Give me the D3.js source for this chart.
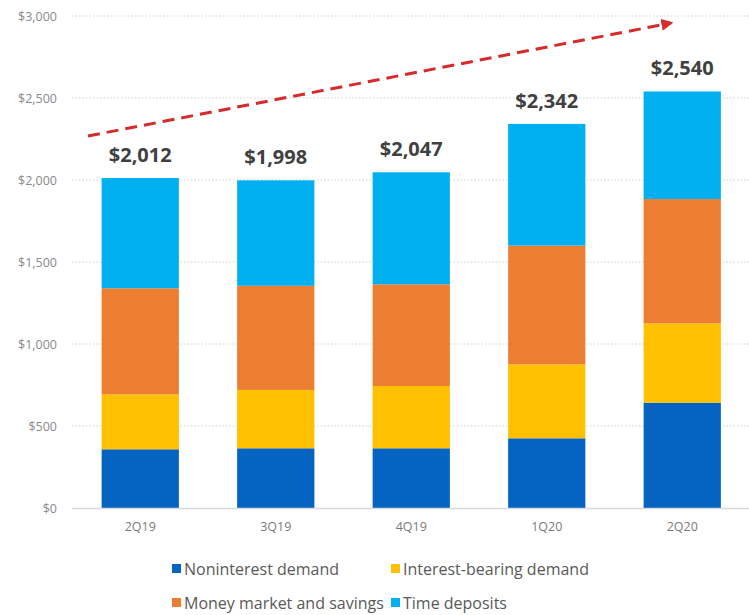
<!DOCTYPE html>
<html>
<head>
<meta charset="utf-8">
<script src="https://cdn.jsdelivr.net/npm/d3@7"></script>
<style>
  html, body { margin: 0; padding: 0; background: #fff; }
  svg { display: block; }
</style>
</head>
<body>
<svg id="chart" width="749" height="615"></svg>
<script>
// Quarterly deposit mix ($ millions)
const quarters = ["2Q19", "3Q19", "4Q19", "1Q20", "2Q20"];
const seriesNames = ["Noninterest demand", "Interest-bearing demand", "Money market and savings", "Time deposits"];
const nonintDemand = [358, 364, 364, 425, 642];
const intBearingDemand = [335, 356, 380, 451, 484];
const moneyMarket = [647, 635, 620, 724, 758];
const timeDeposits = [672, 643, 683, 742, 656];
const yTicks = [0, 500, 1000, 1500, 2000, 2500, 3000];
const seriesColors = ["#0563C1", "#FFC000", "#ED7D31", "#00B0F0"];

const FONT = "'Open Sans', Lato, sans-serif";
const keys = ["ni", "ib", "mm", "td"];
const rows = quarters.map((q, i) => ({
  q, ni: nonintDemand[i], ib: intBearingDemand[i], mm: moneyMarket[i], td: timeDeposits[i]
}));

const svg = d3.select("#chart");
const x = d3.scaleBand().domain(quarters).range([72.5, 750]).paddingInner(0.43).paddingOuter(0.215);
const y = d3.scaleLinear().domain([0, 3000]).range([508, 16]);
const color = d3.scaleOrdinal().domain(keys).range(seriesColors);

// Dotted gridlines
svg.append("g").selectAll("line").data(yTicks.filter(d => d > 0)).join("line")
  .attr("x1", 72).attr("x2", 749)
  .attr("y1", d => y(d)).attr("y2", d => y(d))
  .attr("stroke", "#d0d0d0").attr("stroke-width", 1).attr("stroke-dasharray", "1.5,2");

// Y axis labels
const yAxis = d3.axisLeft(y).tickValues(yTicks).tickSize(0).tickPadding(0)
  .tickFormat(d => "$" + d3.format(",")(d));
svg.append("g").attr("transform", "translate(57,0)").call(yAxis)
  .call(g => g.select(".domain").remove())
  .selectAll("text")
  .attr("fill", "#8a8a8a").attr("font-family", FONT).attr("font-size", 12.5);

// Stacked bars
const stacked = d3.stack().keys(keys)(rows);
svg.append("g").selectAll("g").data(stacked).join("g")
  .attr("fill", d => color(d.key))
  .selectAll("rect").data(d => d).join("rect")
  .attr("x", d => x(d.data.q))
  .attr("width", x.bandwidth())
  .attr("y", d => y(d[1]))
  .attr("height", d => y(d[0]) - y(d[1]));

// Baseline
svg.append("line").attr("x1", 72).attr("x2", 749).attr("y1", y(0) + 0.5).attr("y2", y(0) + 0.5)
  .attr("stroke", "#d9d9d9").attr("stroke-width", 1.5);

// X axis labels
const xAxis = d3.axisBottom(x).tickSize(0).tickPadding(0);
svg.append("g").attr("transform", `translate(0,${y(0) + 14})`).call(xAxis)
  .call(g => g.select(".domain").remove())
  .selectAll("text")
  .attr("fill", "#7a7a7a").attr("font-family", FONT).attr("font-size", 12.5);

// Total labels
svg.append("g").selectAll("text").data(rows).join("text")
  .attr("x", d => x(d.q) + x.bandwidth() / 2)
  .attr("y", d => y(d.ni + d.ib + d.mm + d.td) - 16)
  .attr("text-anchor", "middle")
  .attr("fill", "#404040").attr("font-family", FONT)
  .attr("font-weight", "bold").attr("font-size", 20)
  .text(d => "$" + d3.format(",")(d.ni + d.ib + d.mm + d.td));

// Growth trend arrow
svg.append("defs").append("marker")
  .attr("id", "arrowHead").attr("viewBox", "0 0 10 10").attr("refX", 8).attr("refY", 5)
  .attr("markerWidth", 4).attr("markerHeight", 4).attr("orient", "auto")
  .append("path").attr("d", "M0,0 L10,5 L0,10 Z").attr("fill", "#D52B2B");
svg.append("line")
  .attr("x1", 88).attr("y1", 136).attr("x2", 671).attr("y2", 23)
  .attr("stroke", "#D52B2B").attr("stroke-width", 3).attr("stroke-dasharray", "12,7")
  .attr("marker-end", "url(#arrowHead)");

// Legend
const legendItems = [
  { name: seriesNames[0], key: "ni", x: 172, y: 569 },
  { name: seriesNames[1], key: "ib", x: 391, y: 569 },
  { name: seriesNames[2], key: "mm", x: 172, y: 603 },
  { name: seriesNames[3], key: "td", x: 391, y: 603 }
];
const lg = svg.append("g").selectAll("g").data(legendItems).join("g")
  .attr("transform", d => `translate(${d.x},${d.y})`);
lg.append("rect").attr("x", 0).attr("y", -5).attr("width", 9).attr("height", 9).attr("fill", d => color(d.key));
lg.append("text").attr("x", 12).attr("y", 0).attr("dy", "0.35em")
  .attr("fill", "#595959").attr("font-family", FONT).attr("font-size", 16)
  .text(d => d.name);
</script>
</body>
</html>
